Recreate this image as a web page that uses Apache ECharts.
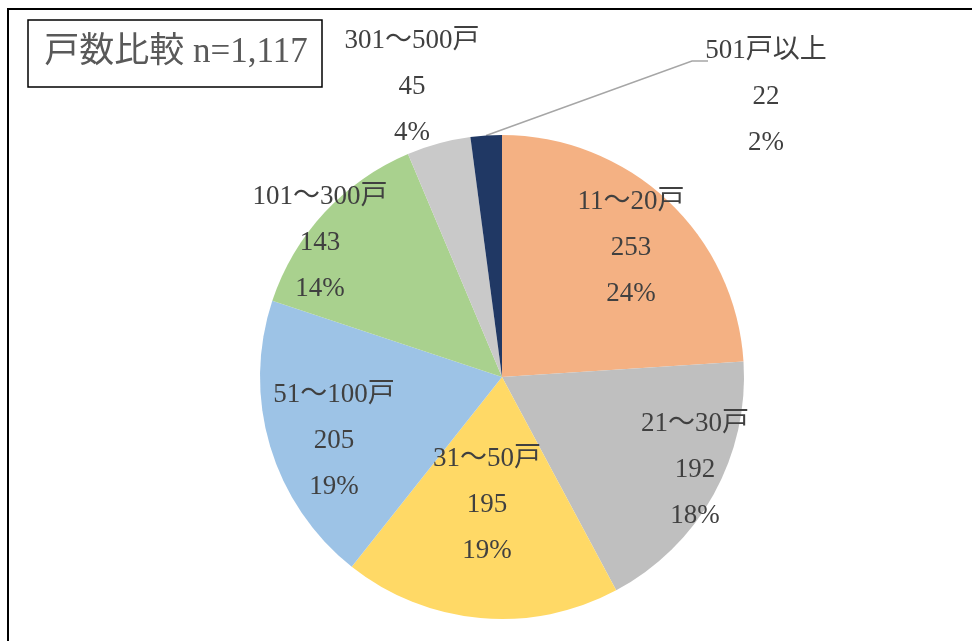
<!DOCTYPE html>
<html><head><meta charset="utf-8">
<script src="https://cdn.jsdelivr.net/npm/echarts@6/dist/echarts.min.js"></script>
<style>html,body{margin:0;padding:0;background:#fff}#c{width:972px;height:641px}</style>
</head><body><div id="c"></div>
<script>
const categories = ['11～20戸','21～30戸','31～50戸','51～100戸','101～300戸','301～500戸','501戸以上'];
const values = [253,192,195,205,143,45,22];
const colors = ['#F4B183','#BFBFBF','#FFD966','#9DC3E6','#A9D18E','#C9C9C9','#203864'];
const titleText = '戸数比較 n=1,117';

const CX = 502, CY = 377, R = 242;
// label block centers (pixel) per slice
const labelPos = [[631,248],[695,470],[487,505],[334,441],[320,243],[412,87],[766,97]];

const chart = echarts.init(document.getElementById('c'));
const FONT = '"Liberation Serif","Noto Sans CJK JP",serif';
chart.setOption({
  animation:false,
  graphic:[
    {type:'rect',shape:{x:8,y:9,width:1000,height:700},style:{fill:'none',stroke:'#000',lineWidth:2},z:0},
    {type:'rect',shape:{x:28,y:20,width:294,height:67},style:{fill:'#fff',stroke:'#000',lineWidth:1.5},z:10},
    {type:'text',x:176,y:53,style:{text:titleText,font:'35px '+FONT,fill:'#595959',align:'center',verticalAlign:'middle'},z:11}
  ],
  series:[{
    type:'pie',
    center:[CX,CY],
    radius:[0,R],
    startAngle:90,
    clockwise:true,
    percentPrecision:0,
    itemStyle:{borderWidth:0},
    label:{position:'inside',formatter:'{b}\n{c}\n{d}%',color:'#404040',fontFamily:FONT,fontSize:27,lineHeight:46,align:'center'},
    labelLine:{show:false},
    labelLayout:function(p){
      const i=p.dataIndex;
      const o={x:labelPos[i][0],y:labelPos[i][1],align:'center',verticalAlign:'middle'};
      if(i===6){
        const total=values.reduce((a,b)=>a+b,0);
        let cum=0;for(let k=0;k<6;k++)cum+=values[k];
        const mid=(cum+values[6]/2)/total*2*Math.PI;
        const ex=CX+R*Math.sin(mid), ey=CY-R*Math.cos(mid);
        const lx=labelPos[6][0]-58, ly=labelPos[6][1]-36;
        o.labelLinePoints=[[ex,ey],[lx-16,ly],[lx,ly]];
      }
      return o;
    },
    data:categories.map((c,i)=>{
      const d={name:c,value:values[i],itemStyle:{color:colors[i]}};
      if(i===6){d.label={position:'outside'};d.labelLine={show:true,lineStyle:{color:'#A6A6A6',width:1.5},length:10,length2:10};}
      return d;
    })
  }]
});
</script></body></html>
